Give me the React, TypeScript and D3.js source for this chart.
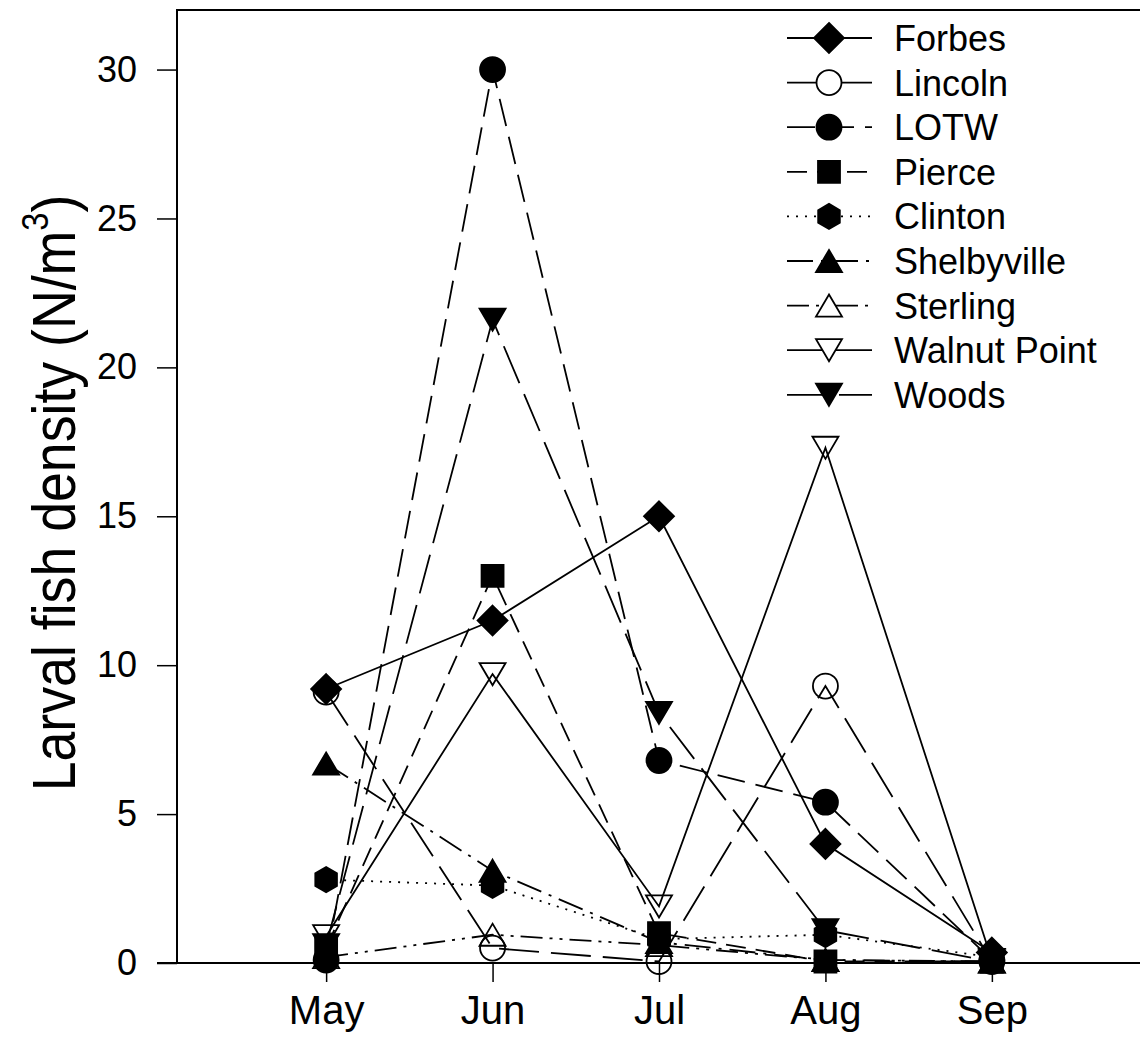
import React, { useRef, useEffect } from "react";
import * as d3 from "d3";

// months sampled
const months = ["May", "Jun", "Jul", "Aug", "Sep"];

// larval fish density (N/m3) per lake
const siteNames = ["Forbes", "Lincoln", "LOTW", "Pierce", "Clinton", "Shelbyville", "Sterling", "Walnut Point", "Woods"];
const forbes = [9.2, 11.5, 15.0, 4.0, 0.35];
const lincoln = [9.1, 0.5, 0.05, 9.3, 0.05];
const lotw = [0.1, 30.0, 6.8, 5.4, 0.1];
const pierce = [0.5, 13.0, 1.0, 0.05, 0.05];
const clinton = [2.8, 2.6, 0.8, 0.95, 0.2];
const shelbyville = [6.7, 3.1, 0.7, 0.1, 0.05];
const sterling = [0.2, 0.95, 0.6, 0.1, 0.05];
const walnutPoint = [0.9, 9.7, 1.9, 17.3, 0.1];
const woods = [0.6, 21.6, 8.4, 1.1, 0.05];

const yTicks = [0, 5, 10, 15, 20, 25, 30];

const svgWidth = 1140;
const svgHeight = 1038;
const plotLeft = 177;
const plotRight = 1140;
const plotTop = 10;
const plotBottom = 963;
const font = "'Liberation Sans', Arial, Helvetica, sans-serif";

// custom marker shapes (size = half width)
const diamond = { draw(ctx, s) { ctx.moveTo(0, -s); ctx.lineTo(s, 0); ctx.lineTo(0, s); ctx.lineTo(-s, 0); ctx.closePath(); } };
const circle = { draw(ctx, s) { ctx.moveTo(s, 0); ctx.arc(0, 0, s, 0, 2 * Math.PI); ctx.closePath(); } };
const square = { draw(ctx, s) { ctx.rect(-s, -s, 2 * s, 2 * s); } };
const hexagon = {
    draw(ctx, s) {
        for (let i = 0; i < 6; i++) {
            const a = -Math.PI / 2 + i * Math.PI / 3;
            if (i === 0) ctx.moveTo(s * Math.cos(a), s * Math.sin(a));
            else ctx.lineTo(s * Math.cos(a), s * Math.sin(a));
        }
        ctx.closePath();
    }
};
const triUp = { draw(ctx, s) { const h = s * 0.85; ctx.moveTo(0, -h); ctx.lineTo(s, h); ctx.lineTo(-s, h); ctx.closePath(); } };
const triDown = { draw(ctx, s) { const h = s * 0.85; ctx.moveTo(0, h); ctx.lineTo(s, -h); ctx.lineTo(-s, -h); ctx.closePath(); } };

const App = () => {
    const svgRef = useRef(null);

    useEffect(() => {
        const svg = d3.select(svgRef.current);
        svg.selectAll("*").remove();

        const seriesValues = [forbes, lincoln, lotw, pierce, clinton, shelbyville, sterling, walnutPoint, woods];
        const looks = [
            { shape: diamond, size: 15, filled: true, dash: null },
            { shape: circle, size: 12.5, filled: false, dash: "40,12" },
            { shape: circle, size: 12.5, filled: true, dash: "28,11" },
            { shape: square, size: 11, filled: true, dash: "20,10" },
            { shape: hexagon, size: 12.5, filled: true, dash: "2,7" },
            { shape: triUp, size: 13, filled: true, dash: "26,8,3,8" },
            { shape: triUp, size: 13, filled: false, dash: "22,7,3,7,3,7" },
            { shape: triDown, size: 13, filled: false, dash: null },
            { shape: triDown, size: 13, filled: true, dash: "40,12" },
        ];
        const series = siteNames.map((name, i) => ({ name, values: seriesValues[i], ...looks[i] }));

        const x = d3.scalePoint().domain(months).range([plotLeft + 1, plotRight]).padding(0.89);
        const y = d3.scaleLinear().domain([0, 32]).range([plotBottom, plotTop]);

        // frame lines
        svg.append("line")
            .attr("x1", plotLeft).attr("x2", plotRight)
            .attr("y1", plotTop).attr("y2", plotTop)
            .attr("stroke", "black").attr("stroke-width", 2);

        // y axis
        const yAxis = svg.append("g")
            .attr("transform", `translate(${plotLeft},0)`)
            .call(d3.axisLeft(y).tickValues(yTicks).tickSize(20).tickSizeOuter(0).tickPadding(20));
        yAxis.select(".domain").remove();
        yAxis.selectAll(".tick line").attr("stroke-width", 1.5);
        yAxis.selectAll("text").attr("font-size", 36).attr("font-family", font).attr("fill", "black");
        svg.append("line")
            .attr("x1", plotLeft).attr("x2", plotLeft)
            .attr("y1", plotTop - 1).attr("y2", plotBottom)
            .attr("stroke", "black").attr("stroke-width", 2);

        // x axis
        const xAxis = svg.append("g")
            .attr("transform", `translate(0,${plotBottom})`)
            .call(d3.axisBottom(x).tickSize(19).tickSizeOuter(0).tickPadding(14));
        xAxis.select(".domain").remove();
        xAxis.selectAll(".tick line").attr("stroke-width", 1.5);
        xAxis.selectAll("text").attr("font-size", 40).attr("font-family", font).attr("fill", "black");
        svg.append("line")
            .attr("x1", plotLeft - 20).attr("x2", plotRight)
            .attr("y1", plotBottom).attr("y2", plotBottom)
            .attr("stroke", "black").attr("stroke-width", 2);

        // y label (narrow, tall lettering)
        const label = svg.append("text")
            .attr("transform", `translate(75,493) rotate(-90) scale(0.88,1)`)
            .attr("text-anchor", "middle")
            .attr("font-family", font)
            .attr("font-size", 61)
            .attr("fill", "black");
        label.append("tspan").text("Larval fish density (N/m");
        label.append("tspan").attr("font-size", 37).attr("dy", -27).text("3");
        label.append("tspan").attr("dy", 27).text(")");

        const line = d3.line()
            .x((d, i) => x(months[i]))
            .y(d => y(d));

        // lines
        svg.append("g")
            .selectAll("path")
            .data(series)
            .join("path")
            .attr("d", d => line(d.values))
            .attr("fill", "none")
            .attr("stroke", "black")
            .attr("stroke-width", 1.8)
            .attr("stroke-dasharray", d => d.dash);

        // markers
        series.forEach(s => {
            const sym = d3.symbol().type(s.shape).size(s.size);
            svg.append("g")
                .selectAll("path")
                .data(s.values)
                .join("path")
                .attr("transform", (d, i) => `translate(${x(months[i])},${y(d)})`)
                .attr("d", sym)
                .attr("fill", s.filled ? "black" : "none")
                .attr("stroke", "black")
                .attr("stroke-width", 1.8);
        });

        // legend
        const legend = svg.append("g");
        const rows = legend.selectAll("g")
            .data(series)
            .join("g")
            .attr("transform", (d, i) => `translate(0,${38 + i * 44.6})`);
        rows.append("line")
            .attr("x1", 787).attr("x2", 872)
            .attr("stroke", "black").attr("stroke-width", 1.8)
            .attr("stroke-dasharray", d => d.dash);
        rows.append("path")
            .attr("transform", "translate(829,0)")
            .attr("d", d => d3.symbol().type(d.shape).size(d.size)())
            .attr("fill", d => d.filled ? "black" : "white")
            .attr("stroke", "black").attr("stroke-width", 1.8);
        rows.append("text")
            .attr("x", 894).attr("y", 13)
            .attr("font-family", font).attr("font-size", 36)
            .attr("fill", "black")
            .text(d => d.name);
    }, []);

    return (
        <svg ref={svgRef} width={svgWidth} height={svgHeight}
            style={{ position: "absolute", left: 0, top: 0, background: "white" }}>
        </svg>
    );
};

export default App;
